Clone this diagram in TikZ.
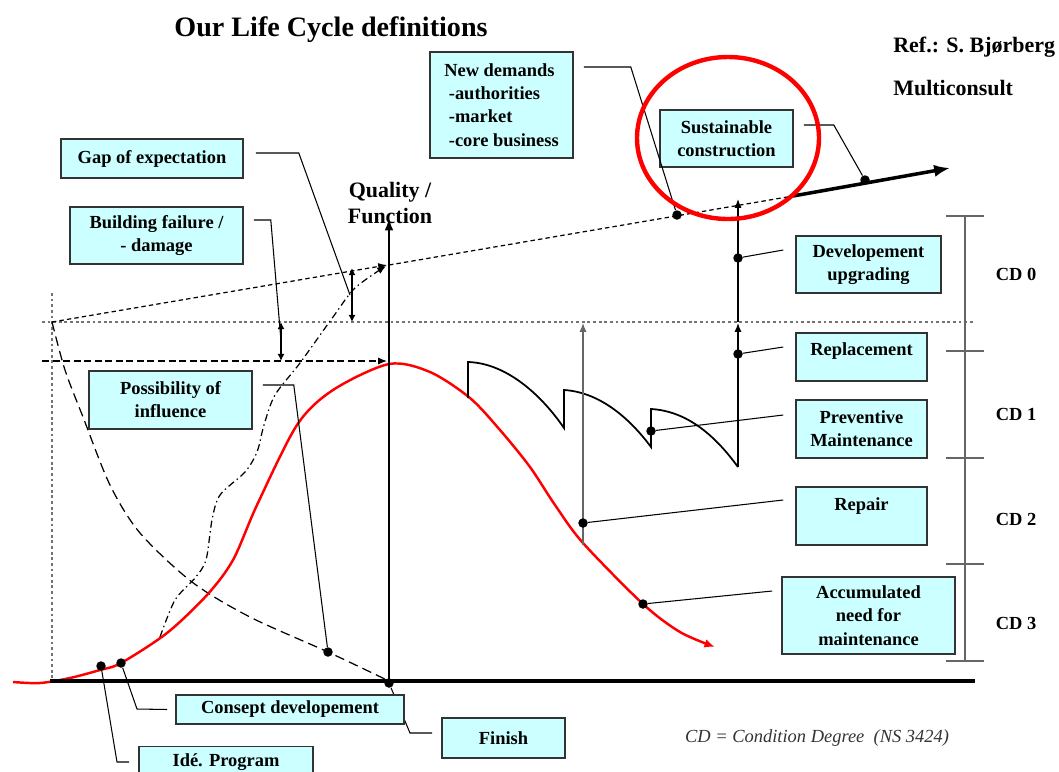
\documentclass[tikz,border=0pt]{standalone}
\usepackage{fontspec}
\setmainfont{Liberation Serif}
\usepackage{tikz}
\usetikzlibrary{arrows.meta}
\usetikzlibrary{calc}
\definecolor{boxcyan}{HTML}{CCFFFF}

\begin{document}
\begin{tikzpicture}[x=0.2mm,y=-0.2mm,
	infobox/.style={draw=black!80,fill=boxcyan,line width=0.9pt,align=center,inner sep=1pt,font=\fontsize{10.5}{13.2}\selectfont\bfseries},
	ldot/.style={circle,fill=black,inner sep=0pt,minimum size=1.9mm},
	lead/.style={line width=0.6pt},
	arrowline/.style={line width=0.7pt,-{Latex[length=5pt,width=4pt]}},
	twoway/.style={line width=0.8pt,{Latex[length=4pt,width=4pt]}-{Latex[length=4pt,width=4pt]}},
	cdlabel/.style={font=\fontsize{10.5}{12}\selectfont\bfseries}]
	\useasboundingbox (0,0) rectangle (1059,771);
	\draw (331,30) node (title) [font=\fontsize{16}{18}\selectfont\bfseries] {Our Life Cycle definitions};
	\draw (893,47) node (ref) [anchor=west,inner sep=0pt,font=\fontsize{12.5}{14}\selectfont\bfseries] {Ref.: S. Bjørberg};
	\draw (893,88) node (firm) [anchor=west,inner sep=0pt,font=\fontsize{12.5}{14}\selectfont\bfseries] {Multiconsult};
	\draw (817,738) node (note) [text=black!80,font=\fontsize{10.5}{12}\selectfont\itshape] {CD = Condition Degree\ \ (NS 3424)};
	\draw[black!55,line width=0.8pt,dash pattern=on 1.6pt off 1.6pt] (52,293) -- (52,681);
	\draw[black!55,line width=0.8pt,dash pattern=on 1.6pt off 1.6pt] (42,322) -- (975,322);
	\draw[line width=0.7pt,dash pattern=on 4pt off 2pt,-{Latex[length=5pt,width=4pt]}] (42,361) -- (387,361);
	\draw[line width=0.7pt,dash pattern=on 2.5pt off 1.8pt,-{Latex[length=5pt,width=4pt]}] (52,322) -- (387,265);
	\draw[line width=0.7pt,dash pattern=on 2.5pt off 1.8pt] (389,265) -- (793,196);
	\draw[line width=2pt,-{Latex[length=9pt,width=7pt]}] (793,196) -- (950,168);
	\draw[line width=0.7pt,dash pattern=on 5.5pt off 3pt] plot[smooth] coordinates {(52,322) (65,370) (83,417) (110,485) (140,533) (192,582) (250,617) (328,652) (389,681)};
	\draw[line width=0.7pt,dash pattern=on 4pt off 2pt on 0.8pt off 2pt,-{Latex[length=5pt,width=4pt]}] plot[smooth] coordinates {(160,637) (175,600) (195,578) (206,560) (212,520) (220,495) (245,472) (257,452) (264,425) (275,395) (300,363) (333,317) (355,288) (386,266)};
	\draw[red,line width=1.4pt,-{Latex[length=6pt,width=5pt]}] plot[smooth] coordinates {(13,682) (40,683) (70,678) (100,670) (121,663) (167,633) (207,595) (233,560) (257,505) (297,425) (333,390) (389,364) (430,372) (470,398) (500,430) (530,467) (555,505) (583,543) (643,604) (680,632) (715,647)};
	\draw[line width=2.2pt] (50,681) -- (975,681);
	\draw[line width=1.7pt,-{Latex[length=7pt,width=5pt]}] (389,681) -- (389,218);
	\draw (390,203) node (axis) [align=center,font=\fontsize{12.5}{15.3}\selectfont\bfseries] {Quality /\\Function};
	\draw[twoway] (352,268) -- (352,322);
	\draw[twoway] (281,322) -- (281,361);
	\coordinate (gaparrow) at (350,295);
	\coordinate (failarrow) at (281,341);
	\draw[line width=1pt] (468,398) -- (468,362) .. controls (505,363) and (540,393) .. (564,428) -- (564,390) .. controls (598,392) and (628,416) .. (651,447) -- (651,409) .. controls (686,411) and (714,434) .. (738,467);
	\draw[arrowline] (738,467) -- (738,323);
	\draw[arrowline] (738,322) -- (738,199);
	\draw[arrowline,black!60] (583,545) -- (583,323);
	\draw[black!60,line width=1pt] (965,216) -- (965,661);
	\foreach \y in {216,351,458,564,661} {
		\draw[black!60,line width=1pt] (946,\y) -- (984,\y);
	};
	\foreach \y/\t in {274/0,414/1,519/2,623/3} {
		\draw (1016,\y) node (cd\t) [cdlabel] {CD \t};
	};
	\draw (101,666) node (idedot) [ldot] {};
	\draw (121,663) node (conseptdot) [ldot] {};
	\draw (389,683) node (origin) [ldot] {};
	\draw (328,652) node (infldot) [ldot] {};
	\draw (677,215) node (demdot) [ldot] {};
	\draw (865,180) node (sustdot) [ldot] {};
	\draw (738,258) node (upgrdot) [ldot] {};
	\draw (738,354) node (repldot) [ldot] {};
	\draw (651,431) node (prevdot) [ldot] {};
	\draw (583,523) node (repdot) [ldot] {};
	\draw (643,604) node (accdot) [ldot] {};
	\draw[lead] (origin) -- (410,733) -- (432,733);
	\draw (501.5,105) node (newdem) [infobox,align=left,minimum width=28.6mm,minimum height=21.2mm] {New demands\\\ -authorities\\\ -market\\\ -core business};
	\draw (726.5,138.5) node (sust) [infobox,minimum width=26.6mm,minimum height=11.4mm] {Sustainable\\construction};
	\draw (152,158.5) node (gap) [infobox,minimum width=36.4mm,minimum height=7.8mm] {Gap of expectation};
	\draw (156.5,235.5) node (fail) [infobox,minimum width=34.6mm,minimum height=11.4mm] {Building failure /\\- damage};
	\draw (170.5,400) node (infl) [infobox,minimum width=32.6mm,minimum height=11.6mm] {Possibility of\\influence};
	\draw (868.5,264.5) node (upgr) [infobox,minimum width=29mm,minimum height=11.4mm] {Developement\\upgrading};
	\draw (861.5,357) node (repl) [infobox,text depth=3mm,minimum width=26.2mm,minimum height=9.6mm] {Replacement};
	\draw (861.5,429) node (prev) [infobox,minimum width=26.2mm,minimum height=11.6mm] {Preventive\\Maintenance};
	\draw (861.5,516) node (rep) [infobox,text depth=4.6mm,minimum width=26.2mm,minimum height=11.6mm] {Repair};
	\draw (868.5,615.5) node (accum) [infobox,minimum width=34.6mm,minimum height=15.4mm] {Accumulated\\need for\\maintenance};
	\draw (290,709.5) node (consept) [infobox,minimum width=45.6mm,minimum height=5.8mm] {Consept developement};
	\draw (503.5,738) node (finish) [infobox,minimum width=24.6mm,minimum height=8mm] {Finish};
	\draw (226,765) node (ide) [infobox,text depth=1.8mm,minimum width=34.8mm,minimum height=7.4mm] {Idé. Program};
	\draw[lead] (gap.east) ++(12,-5.5) -- ++(43,0) -- (gaparrow);
	\draw[lead] (fail.east) ++(10,-15.5) -- ++(17,0) -- (failarrow);
	\draw[lead] (infl.east) ++(10,-15) -- ++(31,0) -- (infldot);
	\draw[lead] (newdem.east) ++(10,-38) -- ++(47,0) -- (demdot);
	\draw[lead] (sust.east) ++(10,-13.5) -- ++(30,0) -- (sustdot);
	\draw[lead] (upgrdot) -- ($(upgr.west)+(-12,-14.5)$);
	\draw[lead] (repldot) -- ($(repl.west)+(-12,-10)$);
	\draw[lead] (prevdot) -- ($(prev.west)+(-12,-14)$);
	\draw[lead] (repdot) -- ($(rep.west)+(-12,-16)$);
	\draw[lead] (accdot) -- ($(accum.west)+(-9,-24.5)$);
	\draw[lead] (conseptdot) -- ++(16,46) -- ($(consept.west)+(-8,0)$);
	\draw[lead] (idedot) -- ++(16,96) -- ($(ide.west)+(-9,-3)$);
	\draw[red,line width=2.5pt] (728,138) ellipse [x radius=18.2mm,y radius=16.2mm];
\end{tikzpicture}
\end{document}
